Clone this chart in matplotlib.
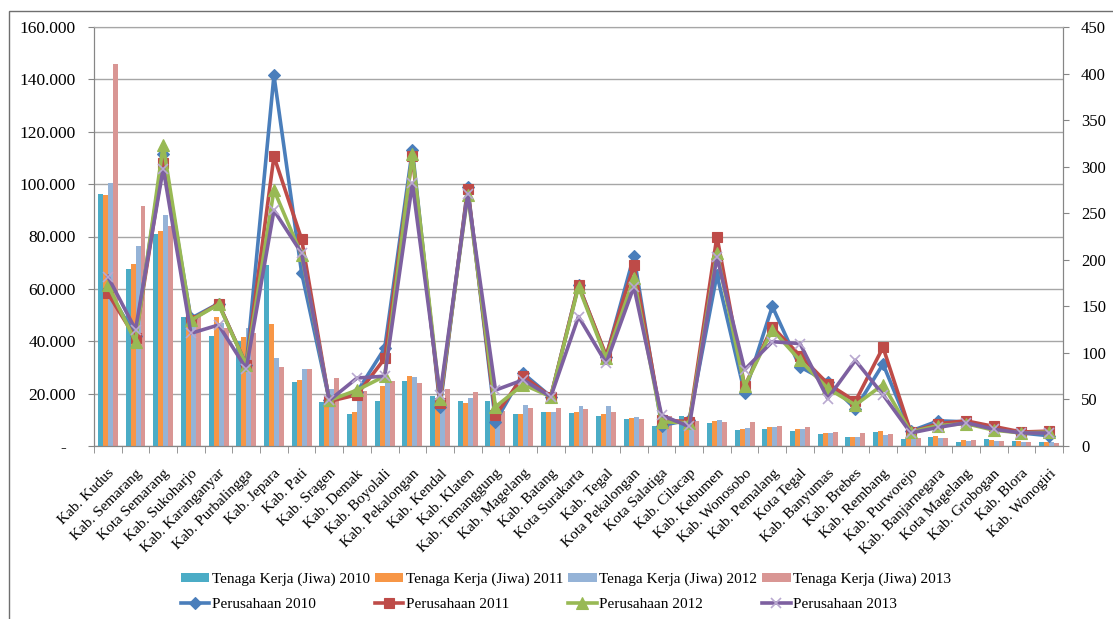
import matplotlib
matplotlib.use("Agg")
import matplotlib.pyplot as plt
import numpy as np
from matplotlib.patches import Rectangle
from matplotlib.ticker import FuncFormatter, MultipleLocator

plt.rcParams["font.family"] = ["Liberation Serif", "DejaVu Serif"]

REGIONS = ["Kab. Kudus", "Kab. Semarang", "Kota Semarang", "Kab. Sukoharjo", "Kab. Karanganyar",
           "Kab. Purbalingga", "Kab. Jepara", "Kab. Pati", "Kab. Sragen", "Kab. Demak",
           "Kab. Boyolali", "Kab. Pekalongan", "Kab. Kendal", "Kab. Klaten", "Kab. Temanggung",
           "Kab. Magelang", "Kab. Batang", "Kota Surakarta", "Kab. Tegal", "Kota Pekalongan",
           "Kota Salatiga", "Kab. Cilacap", "Kab. Kebumen", "Kab. Wonosobo", "Kab. Pemalang",
           "Kota Tegal", "Kab. Banyumas", "Kab. Brebes", "Kab. Rembang", "Kab. Purworejo",
           "Kab. Banjarnegara", "Kota Magelang", "Kab. Grobogan", "Kab. Blora", "Kab. Wonogiri"]

# tenaga kerja (jiwa), left axis
TK_2010 = [96100, 67700, 80900, 49400, 42000, 40100, 69100, 24300, 16700, 12300, 17100, 24800,
           19200, 17100, 17200, 12100, 13100, 12500, 11300, 10200, 7500, 11600, 8800, 6100, 6600,
           5700, 4600, 3300, 5500, 2800, 3450, 1650, 2700, 2050, 1400]
TK_2011 = [95800, 69600, 82200, 47000, 49400, 41500, 46500, 25200, 17500, 13100, 23000, 26900,
           15500, 16500, 9500, 12300, 13100, 12900, 12300, 10700, 9900, 9000, 9400, 6600, 7400,
           6350, 4850, 3300, 5700, 3900, 3950, 2300, 2150, 2000, 1400]
TK_2012 = [100400, 76400, 88200, 48500, 47000, 45200, 33600, 29400, 21650, 17500, 25500, 26500,
           18000, 18400, 15500, 15700, 13100, 15300, 15300, 10900, 10700, 9300, 9900, 7000, 7400,
           6350, 4850, 3300, 4300, 3050, 3050, 2050, 1800, 1650, 1400]
TK_2013 = [145900, 91700, 84000, 49500, 45000, 43300, 30300, 29300, 26100, 21000, 24700, 24200,
           21700, 20500, 13500, 14500, 14500, 14300, 12900, 10450, 11450, 9550, 9050, 9050, 7650,
           7400, 5450, 4800, 4700, 3050, 3050, 2300, 1900, 1550, 1150]

# perusahaan, right axis
P_2010 = [168, 118, 314, 137, 153, 87, 398, 186, 49, 58, 105, 318, 42, 278, 26, 78, 53, 173, 96,
          204, 22, 28, 184, 57, 150, 85, 69, 40, 88, 16, 27, 26, 20, 14, 11]
P_2011 = [164, 116, 304, 135, 153, 87, 311, 222, 48, 55, 94, 311, 46, 276, 33, 75, 53, 173, 97,
          194, 28, 26, 225, 64, 128, 97, 67, 48, 106, 15, 24, 27, 21, 15, 16]
P_2012 = [173, 112, 323, 135, 152, 87, 275, 205, 49, 60, 75, 314, 51, 270, 42, 66, 53, 171, 94,
          180, 26, 25, 207, 64, 125, 92, 62, 44, 66, 15, 22, 24, 17, 14, 15]
P_2013 = [182, 125, 298, 121, 130, 83, 253, 207, 49, 73, 75, 282, 55, 271, 60, 71, 53, 139, 89,
          171, 33, 21, 203, 82, 112, 110, 51, 92, 55, 14, 20, 25, 18, 14, 14]

YEARS = ["2010", "2011", "2012", "2013"]
BAR_COLORS = ["#4bacc6", "#f79646", "#95b3d7", "#d99694"]
LINE_COLORS = ["#4a7ebb", "#be4b48", "#98b954", "#7d60a0"]
MARKERS = [("D", 6), ("s", 7.5), ("^", 8.5), ("x", 7.5)]
GRID = "#a6a6a6"
SPINE = "#868686"


def thousands(v, _):
    if v == 0:
        return "-  "
    return f"{v:,.0f}".replace(",", ".")


fig = plt.figure(figsize=(11.13, 6.19), dpi=100)
ax = fig.add_axes([94 / 1113, 1 - 446 / 619, (1063 - 94) / 1113, (446 - 27) / 619])
ax2 = ax.twinx()

# outer chart frame (only top/left edge visible in the reference)
fig.patches.append(Rectangle((9 / 1113, -0.1), 1.2, 1 - 11 / 619 + 0.1, transform=fig.transFigure,
                             fill=False, edgecolor="#6f6f6f", linewidth=1))

x = np.arange(len(REGIONS))
width = 0.18
tk = [TK_2010, TK_2011, TK_2012, TK_2013]
bar_handles = []
for i, (vals, c) in enumerate(zip(tk, BAR_COLORS)):
    h = ax.bar(x + (i - 1.5) * width, vals, width, color=c, zorder=2,
               label=f"Tenaga Kerja (Jiwa) {YEARS[i]}")
    bar_handles.append(h)

pr = [P_2010, P_2011, P_2012, P_2013]
line_handles = []
for i, (vals, c) in enumerate(zip(pr, LINE_COLORS)):
    m, ms = MARKERS[i]
    (h,) = ax2.plot(x, vals, color=c, lw=2.6, marker=m, markersize=ms,
                    markeredgewidth=1.2 if m == "x" else 0.8,
                    markeredgecolor="#b9a9d0" if m == "x" else c,
                    label=f"Perusahaan {YEARS[i]}")
    line_handles.append(h)

ax.set_xlim(-0.5, len(REGIONS) - 0.5)
ax.set_ylim(0, 160000)
ax.yaxis.set_major_locator(MultipleLocator(20000))
ax.yaxis.set_major_formatter(FuncFormatter(thousands))
ax.grid(axis="y", color=GRID, lw=1, zorder=0)
ax.set_axisbelow(True)
ax2.set_ylim(0, 450)
ax2.yaxis.set_major_locator(MultipleLocator(50))

ax.set_xticks(x)
ax.set_xticklabels(REGIONS, rotation=45, ha="right", rotation_mode="anchor", fontsize=11)
ax.set_xticks(np.arange(len(REGIONS) + 1) - 0.5, minor=True)
ax.tick_params(axis="x", which="major", length=0, pad=15)
ax.tick_params(axis="x", which="minor", length=5, color=SPINE)
ax.tick_params(axis="y", length=4, color=SPINE, labelsize=12.5, pad=9)
ax2.tick_params(axis="y", length=4, color=SPINE, labelsize=12, pad=9)

for a in (ax, ax2):
    for s in a.spines.values():
        s.set_color(SPINE)
    a.spines["top"].set_color(GRID)

handles, labels = [], []
for b, l in zip(bar_handles, line_handles):
    handles += [b, l]
    labels += [b.get_label(), l.get_label()]
fig.legend(handles, labels, ncol=4, loc="center", bbox_to_anchor=(566 / 1113, 1 - 592 / 619),
           frameon=False, fontsize=11, handlelength=1.85, handletextpad=0.15,
           columnspacing=0.35, labelspacing=0.8, numpoints=1, handleheight=0.6)

fig.savefig("out.png", dpi=100)
